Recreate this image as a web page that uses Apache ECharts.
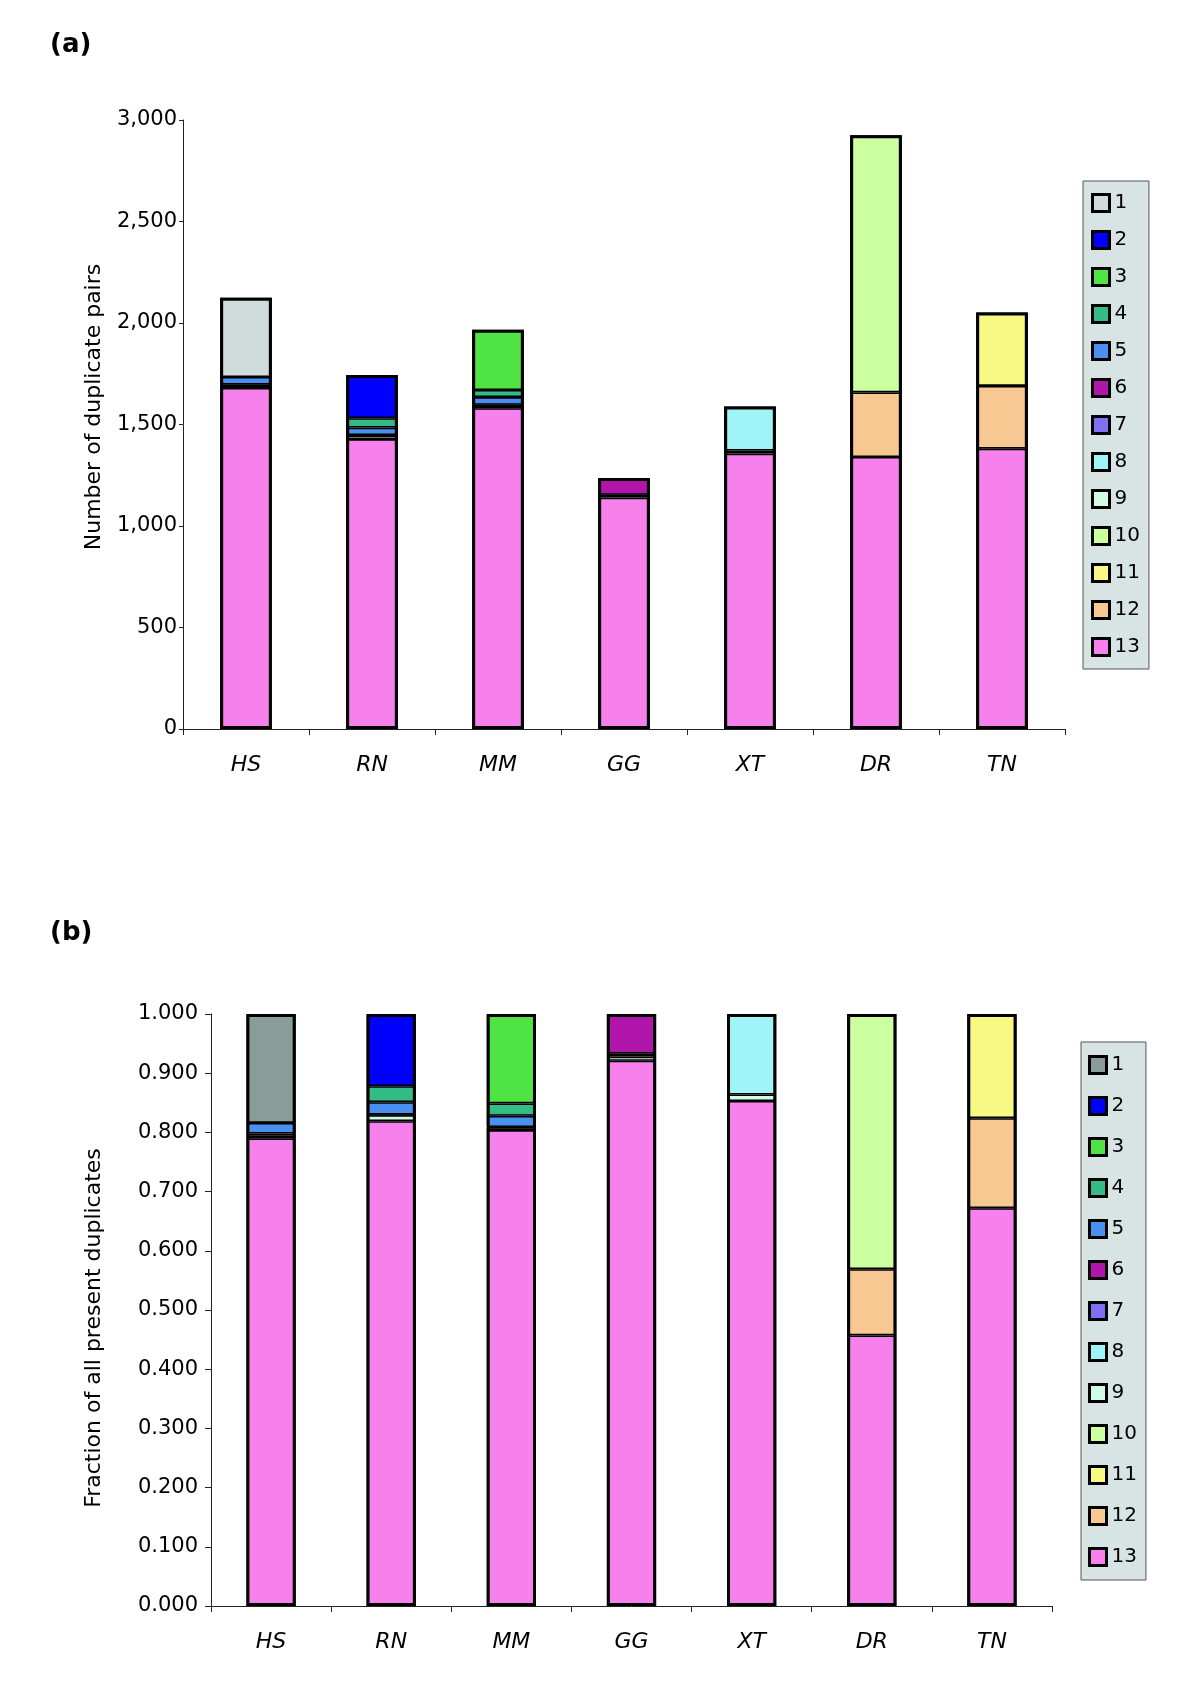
<!DOCTYPE html>
<html>
<head>
<meta charset="utf-8">
<script src="https://cdn.jsdelivr.net/npm/echarts@6/dist/echarts.min.js"></script>
<style>
  html, body { margin: 0; padding: 0; background: #fff; }
  #chartA { position: absolute; left: 0; top: 0; width: 1200px; height: 844px; }
  #chartB { position: absolute; left: 0; top: 844px; width: 1200px; height: 844px; }
</style>
</head>
<body>
<div id="chartA"></div>
<div id="chartB"></div>
<script>
// ---------- data ----------
const species = ['HS', 'RN', 'MM', 'GG', 'XT', 'DR', 'TN'];
const groups = ['1','2','3','4','5','6','7','8','9','10','11','12','13'];

// (a) number of duplicate pairs, per species, indexed by group 1..13
const countHS = [391, null, null, null, 38, null, 6, null, 10, null, null, null, 1680];
const countRN = [null, 213, null, 46, 37, null, 2, null, 18, null, null, null, 1428];
const countMM = [null, null, 297, 35, 38, null, 5, null, 12, null, null, null, 1580];
const countGG = [null, null, null, null, null, 83, 6, null, 8, null, null, null, 1140];
const countXT = [null, null, null, null, null, null, null, 217, 15, null, null, null, 1357];
const countDR = [null, null, null, null, null, null, null, null, null, 1267, null, 318, 1340];
const countTN = [null, null, null, null, null, null, null, null, null, null, 362, 309, 1381];

// (b) fraction of all present duplicates
const fracHS = [0.184, null, null, null, 0.018, null, 0.003, null, 0.005, null, null, null, 0.790];
const fracRN = [null, 0.122, null, 0.027, 0.021, null, 0.001, null, 0.010, null, null, null, 0.819];
const fracMM = [null, null, 0.151, 0.021, 0.019, null, 0.002, null, 0.003, null, null, null, 0.804];
const fracGG = [null, null, null, null, null, 0.067, 0.005, null, 0.007, null, null, null, 0.921];
const fracXT = [null, null, null, null, null, null, null, 0.136, 0.011, null, null, null, 0.853];
const fracDR = [null, null, null, null, null, null, null, null, null, 0.431, null, 0.112, 0.457];
const fracTN = [null, null, null, null, null, null, null, null, null, null, 0.176, 0.152, 0.672];

// ---------- styles ----------
const paletteA = ['#d0dcdc', '#0000ff', '#4fe444', '#34bb88', '#4a90f0', '#b016aa', '#7f6ff2',
                  '#9ff4f8', '#d0fce6', '#cbffa0', '#f8f884', '#f8c893', '#f681ec'];
const paletteB = ['#8a9c9a', '#0000ff', '#4fe444', '#34bb88', '#4a90f0', '#b016aa', '#7f6ff2',
                  '#9ff4f8', '#d0fce6', '#cbffa0', '#f8f884', '#f8c893', '#f681ec'];
const FONT = 'DejaVu Sans';

function buildSeries(rows, palette) {
  const out = [];
  for (let k = groups.length - 1; k >= 0; k--) {
    out.push({
      name: groups[k],
      type: 'bar',
      stack: 'all',
      barWidth: '41%',
      barGap: '-100%',
      data: rows.map(r => r[k]),
      itemStyle: { color: palette[k], borderColor: '#000', borderWidth: 1.6 },
      emphasis: { disabled: true },
      animation: false
    });
  }
  // outline of the whole stacked bar (thicker outer border)
  out.push({
    name: 'outline',
    type: 'bar',
    barWidth: '41%',
    barGap: '-100%',
    data: rows.map(r => r.reduce((s, v) => s + (v || 0), 0)),
    itemStyle: { color: 'rgba(0,0,0,0)', borderColor: '#000', borderWidth: 3 },
    silent: true,
    emphasis: { disabled: true },
    animation: false,
    z: 3
  });
  return out;
}

function buildOption(cfg) {
  return {
    animation: false,
    textStyle: { fontFamily: FONT },
    grid: cfg.grid,
    legend: {
      orient: 'vertical',
      left: cfg.legend.left,
      top: cfg.legend.top,
      data: groups,
      icon: 'rect',
      itemWidth: 17,
      itemHeight: 17,
      itemGap: cfg.legend.gap,
      padding: cfg.legend.padding,
      backgroundColor: '#d8e3e3',
      borderColor: '#555',
      borderWidth: 1,
      borderRadius: 0,
      selectedMode: false,
      itemStyle: { borderColor: '#000', borderWidth: 3 },
      textStyle: { fontFamily: FONT, fontSize: 20, color: '#000' }
    },
    xAxis: {
      type: 'category',
      data: species,
      boundaryGap: true,
      axisLine: { show: true, lineStyle: { color: '#222', width: 1 } },
      axisTick: { show: true, length: 6, inside: false, lineStyle: { color: '#222' } },
      axisLabel: { fontFamily: FONT, fontSize: 22, fontStyle: 'italic', color: '#000', margin: 25 },
      splitLine: { show: false }
    },
    yAxis: {
      type: 'value',
      min: 0,
      max: cfg.yMax,
      interval: cfg.yInterval,
      axisLine: { show: true, lineStyle: { color: '#222', width: 1 } },
      axisTick: { show: true, length: cfg.tickLen, lineStyle: { color: '#222' } },
      axisLabel: { fontFamily: FONT, fontSize: 21, color: '#000', margin: cfg.labelMargin, formatter: cfg.fmt },
      splitLine: { show: false }
    },
    graphic: [
      { type: 'text', left: 50, top: cfg.panelTop,
        style: { text: cfg.panel, font: 'bold 26px "DejaVu Sans"', fill: '#000' } },
      { type: 'text', x: cfg.nameX, y: cfg.nameY, rotation: Math.PI / 2,
        style: { text: cfg.yName, font: '22px "DejaVu Sans"', fill: '#000', align: 'center', verticalAlign: 'middle' } }
    ],
    series: buildSeries(cfg.rows, cfg.palette)
  };
}

const chartA = echarts.init(document.getElementById('chartA'), null, { renderer: 'canvas' });
chartA.setOption(buildOption({
  grid: { left: 183, top: 120, width: 882, height: 609, containLabel: false },
  legend: { left: 1083, top: 181, gap: 17, padding: [12, 9, 12, 8] },
  yMax: 3000, yInterval: 500, tickLen: 4, labelMargin: 6,
  fmt: v => v.toLocaleString('en-US'),
  panel: '(a)', panelTop: 32,
  yName: 'Number of duplicate pairs', nameX: 94, nameY: 407,
  rows: [countHS, countRN, countMM, countGG, countXT, countDR, countTN],
  palette: paletteA
}));

const chartB = echarts.init(document.getElementById('chartB'), null, { renderer: 'canvas' });
chartB.setOption(buildOption({
  grid: { left: 211, top: 170, width: 841, height: 592, containLabel: false },
  legend: { left: 1081, top: 198, gap: 21, padding: [13, 9, 13, 7] },
  yMax: 1, yInterval: 0.1, tickLen: 6, labelMargin: 13,
  fmt: v => v.toFixed(3),
  panel: '(b)', panelTop: 76,
  yName: 'Fraction of all present duplicates', nameX: 94, nameY: 484,
  rows: [fracHS, fracRN, fracMM, fracGG, fracXT, fracDR, fracTN],
  palette: paletteB
}));
</script>
</body>
</html>
